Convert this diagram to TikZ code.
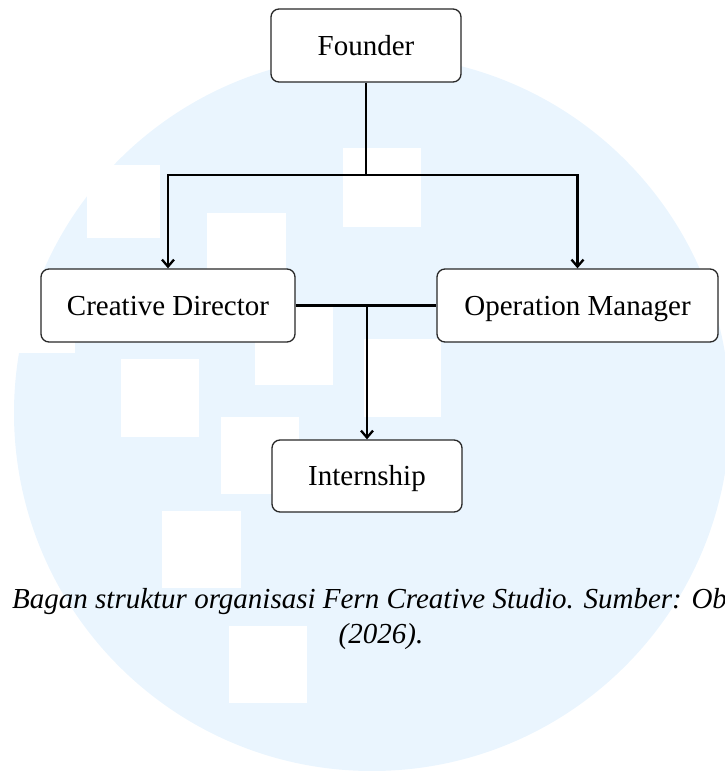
\documentclass[tikz,border=0pt]{standalone}
\usepackage{fontspec}
\setmainfont{Liberation Serif}
\usepackage{tikz}
\usetikzlibrary{calc}
\usetikzlibrary{arrows.meta}
\definecolor{wmblue}{RGB}{234,245,254}
\definecolor{boxline}{RGB}{40,40,40}

\begin{document}
\begin{tikzpicture}[x=1pt,y=-1pt,
        jabatan/.style={draw=boxline,line width=1.3pt,rounded corners=8pt,fill=white,inner sep=0pt,minimum height=73pt,text height=19.5pt,text depth=0pt,font=\fontsize{29}{34}\selectfont},
        garis/.style={line width=2.3pt},
        panah/.style={garis,-{Straight Barb[length=7pt,width=12pt]}},
        keterangan/.style={inner sep=0pt,font=\fontsize{29}{34}\selectfont\itshape}]
        \useasboundingbox (0,0) rectangle (724,771);
        \fill[wmblue] (372,413) circle (358pt);
        \fill[white] (343,148) rectangle (421,227);
        \fill[white] (87,165) rectangle (160,238);
        \fill[white] (207,213) rectangle (286,291);
        \fill[white] (255,307) rectangle (333,385);
        \fill[white] (-3,275) rectangle (75,353);
        \fill[white] (121,359) rectangle (199,437);
        \fill[white] (364,339) rectangle (441,417);
        \fill[white] (221,417) rectangle (299,494);
        \fill[white] (162,511) rectangle (241,588);
        \fill[white] (229,626) rectangle (307,703);
        \node[jabatan,minimum width=190pt] (founder) at (366,45.5) {Founder};
        \node[jabatan,minimum width=254pt] (cd) at (168,305.5) {Creative Director};
        \node[jabatan,minimum width=281pt] (om) at (577.5,305.5) {Operation Manager};
        \node[jabatan,minimum width=190pt,minimum height=72pt] (intern) at (367,476) {Internship};
        \coordinate (cabang) at (366,175);
        \draw[garis] (founder.south) -- (cabang);
        \draw[panah] (cabang) -| (cd.north);
        \draw[panah] (cabang) -| (om.north);
        \draw[garis] (cd.east) -- (om.west);
        \draw[panah] (cd.east -| intern.north) -- (intern.north);
        \node[keterangan,anchor=base west] (caption1) at (12,608) {Bagan struktur organisasi Fern Creative Studio. Sumber: Ob};
        \node[keterangan,anchor=base] (caption2) at (381,643) {(2026).};
    \end{tikzpicture}
\end{document}
